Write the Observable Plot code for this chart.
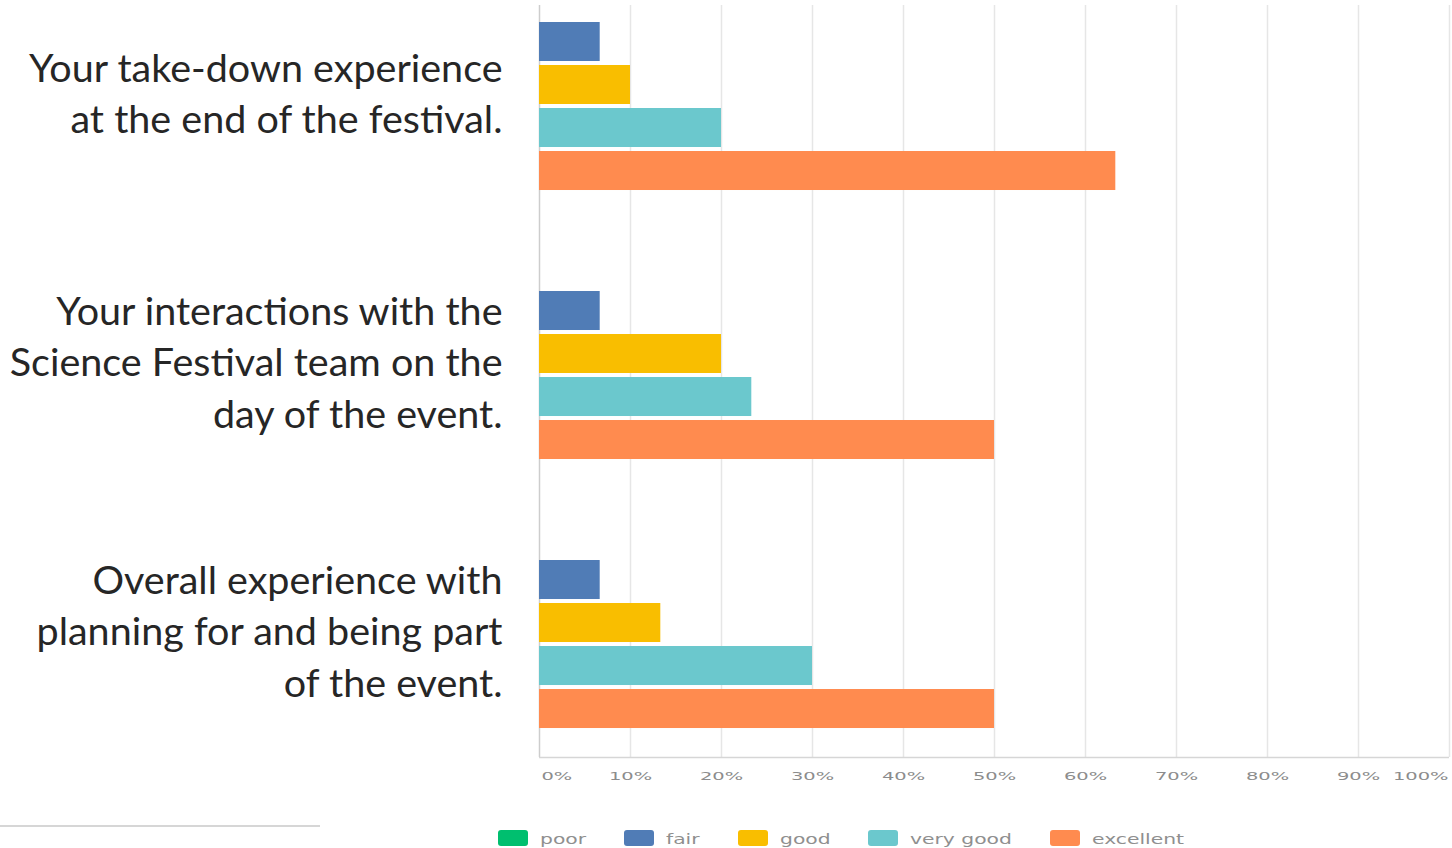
<!DOCTYPE html>
<html><head><meta charset="utf-8">
<script src="https://cdn.jsdelivr.net/npm/d3@7"></script>
<script src="https://cdn.jsdelivr.net/npm/@observablehq/plot@0.6"></script>
<style>
html,body{margin:0;padding:0;background:#fff;}
#wrap{position:relative;width:1452px;height:848px;overflow:hidden;background:#fff;}
#wrap > svg{position:absolute;left:0;top:0;}
#legend{position:absolute;left:0;top:0;width:1452px;height:848px;pointer-events:none;}
.sw{position:absolute;width:30px;height:16px;border-radius:3px;}
.lb{position:absolute;font-family:"DejaVu Sans",sans-serif;font-size:14px;color:#8f8f8f;white-space:nowrap;transform-origin:left center;line-height:18px;}
#rule{position:absolute;left:0;top:825px;width:320px;height:2px;background:#d6d6d6;}
</style></head><body><div id="wrap"><div id="rule"></div><div id="legend"></div></div>
<script>
// ---- data ----
const questions = [
  "Your take-down experience at the end of the festival.",
  "Your interactions with the Science Festival team on the day of the event.",
  "Overall experience with planning for and being part of the event."
];
const questionLabels = [
  "Your take-down experience\nat the end of the festival.",
  "Your interactions with the\nScience Festival team on the\nday of the event.",
  "Overall experience with\nplanning for and being part\nof the event."
];
const ratings = ["poor", "fair", "good", "very good", "excellent"];
const ratingColors = ["#00bf6f", "#507cb6", "#f9be00", "#6bc8cd", "#ff8b4f"];
const poor      = [0, 0, 0];
const fair      = [6.67, 6.67, 6.67];
const good      = [10, 20, 13.33];
const veryGood  = [20, 23.33, 30];
const excellent = [63.33, 50, 50];
const xTicks = [0, 10, 20, 30, 40, 50, 60, 70, 80, 90, 100];
const tickLabels = ["0%", "10%", "20%", "30%", "40%", "50%", "60%", "70%", "80%", "90%", "100%"];

// ---- derived table ----
const series = {"poor": poor, "fair": fair, "good": good, "very good": veryGood, "excellent": excellent};
const rows = questions.flatMap((q, i) => ratings.map(r => ({question: q, rating: r, value: series[r][i]})));
const shownRatings = ratings.filter(r => series[r].some(v => v > 0));
const barRows = rows.filter(d => shownRatings.includes(d.rating));

const W = 1452, H = 797;
const M = {marginTop: 5, marginBottom: 40, marginLeft: 539, marginRight: 3};
const tickFmt = d => tickLabels[xTicks.indexOf(d)];

// ---- base layer: grid, axis lines, tick labels ----
const base = Plot.plot({
  width: W, height: H, ...M,
  style: {background: "transparent", fontFamily: "DejaVu Sans", fontSize: "10.5px", color: "#8c8c8c"},
  x: {domain: [0, 100]},
  y: {domain: [0, 1], axis: null},
  marks: [
    Plot.ruleX(xTicks.slice(1), {stroke: "#e6e6e6", strokeWidth: 1.5}),
    Plot.ruleX(xTicks.slice(0, 1), {stroke: "#cdcdcd", strokeWidth: 1.5}),
    Plot.ruleY([0], {stroke: "#d6d6d6", strokeWidth: 1.5}),
    Plot.axisX(xTicks.slice(1, -1), {tickSize: 0, tickPadding: 15, tickFormat: tickFmt, label: null}),
    Plot.axisX(xTicks.slice(0, 1), {tickSize: 0, tickPadding: 15, tickFormat: tickFmt, label: null, textAnchor: "start", dx: 2}),
    Plot.axisX(xTicks.slice(-1), {tickSize: 0, tickPadding: 15, tickFormat: tickFmt, label: null, textAnchor: "end", dx: -1})
  ]
});

// ---- bar layer ----
const bars = Plot.plot({
  width: W, height: H, ...M,
  style: {background: "transparent", fontFamily: "Lato", color: "#262626"},
  facet: {data: barRows, y: "question"},
  fy: {domain: questions, paddingInner: 0.2677, paddingOuter: 0.0316, align: 1, round: false, label: null},
  x: {domain: [0, 100], axis: null},
  y: {domain: shownRatings, paddingInner: 0.093, paddingOuter: 0.337, align: 0, round: false, axis: null},
  color: {domain: ratings, range: ratingColors},
  marks: [
    Plot.barX(barRows, {x: "value", y: "rating", fill: "rating"}),
    Plot.axisFy({anchor: "left", tickSize: 0, tickPadding: 37, fontSize: 39.5, lineHeight: 1.3, dy: -30,
      tickFormat: q => questionLabels[questions.indexOf(q)], label: null})
  ]
});

const wrap = document.getElementById("wrap");
wrap.appendChild(base);
wrap.appendChild(bars);

// stretch tick labels horizontally like the reference
base.querySelectorAll('g[aria-label="x-axis tick label"] text').forEach(t => {
  const w = t.getComputedTextLength();
  t.setAttribute("textLength", (w * 1.85).toFixed(1));
  t.setAttribute("lengthAdjust", "spacingAndGlyphs");
});

// ---- legend ----
const legend = document.getElementById("legend");
let left = 498;
ratings.forEach((r, i) => {
  const sw = document.createElement("div");
  sw.className = "sw";
  sw.style.left = left + "px";
  sw.style.top = "830px";
  sw.style.background = ratingColors[i];
  legend.appendChild(sw);
  const lb = document.createElement("span");
  lb.className = "lb";
  lb.textContent = r;
  lb.style.left = (left + 42) + "px";
  lb.style.top = "830px";
  legend.appendChild(lb);
  const w = lb.getBoundingClientRect().width;
  lb.style.transform = "scaleX(1.45)";
  left = left + 42 + w * 1.45 + 38;
});
</script>
</body></html>
